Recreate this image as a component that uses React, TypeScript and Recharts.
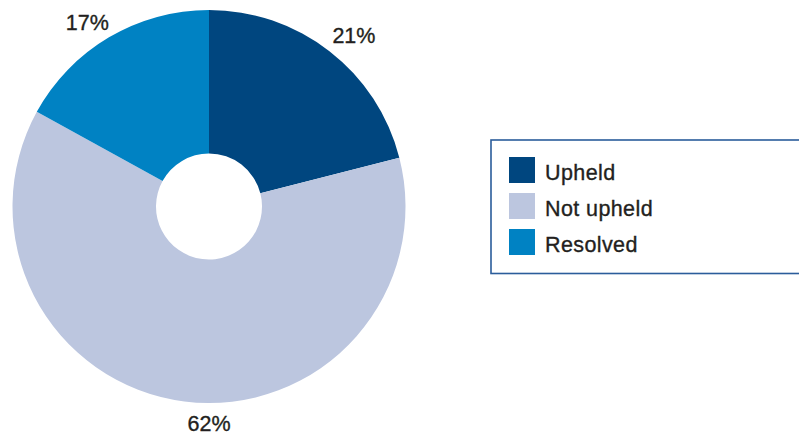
import React from "react";
import { PieChart, Pie, Cell, Legend } from "recharts";

const categories = ["Upheld", "Not upheld", "Resolved"];
const shares = [21, 62, 17];
const colors = ["#00467f", "#bcc6df", "#0082c3"];

const data = categories.map((name, i) => ({ name, value: shares[i] }));

const RAD = Math.PI / 180;
const NUDGE = [
  { da: -2.4, dr: 4 },
  { da: 7.2, dr: -3.5 },
  { da: 2.9, dr: 0 },
];
const FONT = "'Liberation Sans', Arial, Helvetica, sans-serif";

const renderLabel = (props: any) => {
  const { cx, cy, midAngle, outerRadius, index, value } = props;
  const n = NUDGE[index] || { da: 0, dr: 0 };
  const a = (midAngle + n.da) * RAD;
  const r = outerRadius + 24 + n.dr;
  const x = cx + r * Math.cos(a);
  const y = cy - r * Math.sin(a);
  return (
    <text
      x={x}
      y={y + 7.8}
      textAnchor="middle"
      fill="#231f20"
      stroke="#231f20"
      strokeWidth={0.35}
      fontSize={21.5}
      fontFamily={FONT}
    >
      {`${value}%`}
    </text>
  );
};

const LegendBox = () => (
  <svg width={320} height={137} style={{ display: "block", overflow: "visible" }}>
    <rect x={1} y={1} width={340} height={133.5} fill="#fff" stroke="#2b5d9b" strokeWidth={1.6} />
    {categories.map((c, i) => (
      <g key={c}>
        <rect x={19} y={18 + i * 36} width={26} height={26} fill={colors[i]} />
        <text
          x={55}
          y={41 + i * 36}
          fontSize={21.5}
          fill="#231f20"
          stroke="#231f20"
          strokeWidth={0.35}
          letterSpacing={0.4}
          fontFamily={FONT}
        >
          {c}
        </text>
      </g>
    ))}
  </svg>
);

export default function App() {
  return (
    <div style={{ position: "fixed", left: 0, top: 0, width: 799, height: 436, background: "#fff" }}>
      <PieChart width={799} height={436} margin={{ top: 0, right: 0, bottom: 0, left: 0 }}>
        <Pie
          data={data}
          dataKey="value"
          nameKey="name"
          cx={209}
          cy={206.5}
          innerRadius={53}
          outerRadius={196.5}
          startAngle={90}
          endAngle={-270}
          stroke="none"
          label={renderLabel}
          labelLine={false}
          isAnimationActive={false}
        >
          {data.map((d, i) => (
            <Cell key={d.name} fill={colors[i]} />
          ))}
        </Pie>
        <Legend
          content={() => <LegendBox />}
          wrapperStyle={{ position: "absolute", left: 490, top: 139, width: 320, height: 137 }}
        />
      </PieChart>
    </div>
  );
}
